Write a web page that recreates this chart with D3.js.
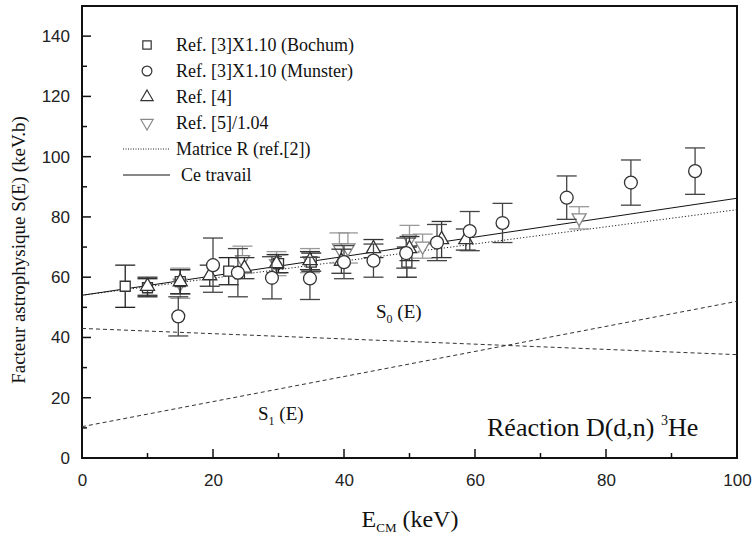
<!DOCTYPE html>
<html lang="fr">
<head>
<meta charset="UTF-8">
<title>Facteur astrophysique D(d,n)3He</title>
<script src="https://d3js.org/d3.v7.min.js"></script>
<style>
  body { margin: 0; background: #fff; }
  svg { display: block; }
  .serif { font-family: "Liberation Serif", "DejaVu Serif", serif; fill: #111; }
  .tick text { font-family: "Liberation Sans", Arial, sans-serif; font-size: 17px; fill: #222; }
</style>
</head>
<body>
<script>
// --- data ---
const bochumE   = [6.6, 10, 15, 22.4, 30, 35, 49.6];
const bochumS   = [57, 56.5, 58.5, 62, 64.5, 65, 65];
const bochumErr = [7, 3, 4, 4.5, 3, 3, 5];

const munsterE   = [14.7, 20, 23.8, 29, 34.8, 40, 44.5, 49.5, 54.2, 59.2, 64.2, 74, 83.8, 93.6];
const munsterS   = [47, 64, 61.5, 59.8, 59.6, 65, 65.5, 68, 71.5, 75.3, 78, 86.4, 91.4, 95.2];
const munsterErr = [6.5, 9, 8, 7, 7, 5.5, 5.5, 5, 6, 6.5, 6.5, 7.2, 7.5, 7.7];

const ref4E   = [10, 15, 19.5, 24.8, 29.7, 34.8, 39.6, 44.5, 50, 54.9, 58.6];
const ref4S   = [57, 58.5, 60.5, 63, 64.5, 65.5, 65.3, 69.5, 69.5, 72.5, 72.5];
const ref4Err = [3, 4, 3.5, 3.5, 3, 3, 4, 3, 4, 6, 3.5];

const ref5E   = [15, 24.5, 29.7, 34.8, 39.3, 40.6, 50, 52, 75.9];
const ref5S   = [58, 65.8, 64.5, 65.5, 69.7, 69.7, 72.7, 70.3, 79.7];
const ref5Err = [5, 4.5, 4, 4, 5, 5, 4.5, 4, 3.7];

const lineE      = [0, 100];
const ceTravail  = [54, 86.2];
const matriceR   = [54, 82.4];
const s0Line     = [43, 34.3];
const s1Line     = [10.4, 52];

const xTicks = [0, 20, 40, 60, 80, 100];
const yTicks = [0, 20, 40, 60, 80, 100, 120, 140];

// --- layout ---
const W = 752, H = 535;
const margin = {top: 6, left: 82, right: 15, bottom: 77};

const svg = d3.select("body").append("svg").attr("width", W).attr("height", H);

const x = d3.scaleLinear().domain([0, 100]).range([margin.left, W - margin.right]);
const y = d3.scaleLinear().domain([0, 150]).range([H - margin.bottom, margin.top]);

// frame
svg.append("rect")
  .attr("x", x(0)).attr("y", y(150))
  .attr("width", x(100) - x(0)).attr("height", y(0) - y(150))
  .attr("fill", "none").attr("stroke", "#111").attr("stroke-width", 2);

// axes (ticks inside)
const xAxis = svg.append("g").attr("transform", `translate(0,${y(0)})`)
  .call(d3.axisBottom(x).tickValues(xTicks).tickSize(0).tickPadding(16));
xAxis.select(".domain").remove();
svg.append("g").selectAll("line").data(d3.range(10, 100, 10)).join("line")
  .attr("x1", d => x(d)).attr("x2", d => x(d))
  .attr("y1", y(0)).attr("y2", d => y(0) - (d % 20 === 0 ? 9 : 5))
  .attr("stroke", "#111").attr("stroke-width", 1.5);

const yAxis = svg.append("g").attr("transform", `translate(${x(0)},0)`)
  .call(d3.axisLeft(y).tickValues(yTicks).tickSize(0).tickPadding(12));
yAxis.select(".domain").remove();
svg.append("g").selectAll("line").data(d3.range(10, 150, 10)).join("line")
  .attr("x1", x(0)).attr("x2", d => x(0) + (d % 20 === 0 ? 9 : 5))
  .attr("y1", d => y(d)).attr("y2", d => y(d))
  .attr("stroke", "#111").attr("stroke-width", 1.5);

// curves
const line = d3.line().x(d => x(d[0])).y(d => y(d[1]));
const pairs = vals => lineE.map((e, i) => [e, vals[i]]);
const plot = svg.append("g");
plot.append("path").attr("d", line(pairs(s0Line)))
  .attr("fill", "none").attr("stroke", "#333").attr("stroke-width", 1).attr("stroke-dasharray", "4,3");
plot.append("path").attr("d", line(pairs(s1Line)))
  .attr("fill", "none").attr("stroke", "#333").attr("stroke-width", 1).attr("stroke-dasharray", "4,3");
plot.append("path").attr("d", line(pairs(matriceR)))
  .attr("fill", "none").attr("stroke", "#222").attr("stroke-width", 1).attr("stroke-dasharray", "1.2,2");
plot.append("path").attr("d", line(pairs(ceTravail)))
  .attr("fill", "none").attr("stroke", "#111").attr("stroke-width", 1);

// markers
const sym = {
  square: d3.symbol().type(d3.symbolSquare).size(100),
  circle: d3.symbol().type(d3.symbolCircle).size(130),
  up: d3.symbol().type(d3.symbolTriangle).size(85),
  down: d3.symbol().type(d3.symbolTriangle).size(85)
};

function series(E, S, Err, kind, color, barColor) {
  const g = plot.append("g");
  const pts = E.map((e, i) => ({e, s: S[i], err: Err[i]}));
  const bars = g.selectAll("g.bar").data(pts).join("g").attr("class", "bar")
    .attr("stroke", barColor).attr("stroke-width", 1.3);
  bars.append("line").attr("x1", d => x(d.e)).attr("x2", d => x(d.e))
    .attr("y1", d => y(d.s - d.err)).attr("y2", d => y(d.s + d.err));
  [-1, 1].forEach(sg => {
    bars.append("line").attr("x1", d => x(d.e) - 10).attr("x2", d => x(d.e) + 10)
      .attr("y1", d => y(d.s + sg * d.err)).attr("y2", d => y(d.s + sg * d.err));
  });
  g.selectAll("path").data(pts).join("path")
    .attr("d", sym[kind])
    .attr("transform", d => `translate(${x(d.e)},${y(d.s)})` + (kind === "down" ? " rotate(180)" : ""))
    .attr("fill", "white").attr("stroke", color).attr("stroke-width", 1.3);
}

series(ref5E, ref5S, ref5Err, "down", "#888", "#999");
series(bochumE, bochumS, bochumErr, "square", "#333", "#222");
series(ref4E, ref4S, ref4Err, "up", "#333", "#333");
series(munsterE, munsterS, munsterErr, "circle", "#333", "#444");

// legend
const legendItems = [
  {kind: "square", color: "#333", label: "Ref. [3]X1.10 (Bochum)"},
  {kind: "circle", color: "#333", label: "Ref. [3]X1.10 (Munster)"},
  {kind: "up", color: "#333", label: "Ref. [4]"},
  {kind: "down", color: "#888", label: "Ref. [5]/1.04"},
  {kind: "dotted", color: "#222", label: "Matrice R (ref.[2])"},
  {kind: "solid", color: "#111", label: "Ce travail"}
];
const legSym = {
  square: d3.symbol().type(d3.symbolSquare).size(70),
  circle: d3.symbol().type(d3.symbolCircle).size(75),
  up: d3.symbol().type(d3.symbolTriangle).size(65),
  down: d3.symbol().type(d3.symbolTriangle).size(65)
};
const leg = svg.append("g");
legendItems.forEach((it, i) => {
  const yy = 45 + i * 26;
  if (it.kind === "dotted" || it.kind === "solid") {
    leg.append("line").attr("x1", 123).attr("x2", 170).attr("y1", yy).attr("y2", yy)
      .attr("stroke", it.color).attr("stroke-width", 1)
      .attr("stroke-dasharray", it.kind === "dotted" ? "1,1.5" : null);
  } else {
    leg.append("path").attr("d", legSym[it.kind]())
      .attr("transform", `translate(147,${yy})` + (it.kind === "down" ? " rotate(180)" : ""))
      .attr("fill", "white").attr("stroke", it.color).attr("stroke-width", 1.2);
  }
  leg.append("text").attr("class", "serif")
    .attr("x", it.kind === "solid" ? 181 : 176).attr("y", yy + 6)
    .attr("font-size", 18).text(it.label);
});

// annotations
const s0 = svg.append("text").attr("class", "serif").attr("x", 376).attr("y", 318).attr("font-size", 19);
s0.append("tspan").text("S");
s0.append("tspan").attr("dy", 5).attr("font-size", 12).text("0");
s0.append("tspan").attr("dy", -5).text(" (E)");

const s1 = svg.append("text").attr("class", "serif").attr("x", 258).attr("y", 420).attr("font-size", 19);
s1.append("tspan").text("S");
s1.append("tspan").attr("dy", 5).attr("font-size", 12).text("1");
s1.append("tspan").attr("dy", -5).text(" (E)");

const rx = svg.append("text").attr("class", "serif").attr("x", 487).attr("y", 436).attr("font-size", 26);
rx.append("tspan").text("Réaction D(d,n) ");
rx.append("tspan").attr("dy", -11).attr("font-size", 14).text("3");
rx.append("tspan").attr("dy", 11).text("He");

// axis titles
const xt = svg.append("text").attr("class", "serif").attr("x", 410).attr("y", 527)
  .attr("text-anchor", "middle").attr("font-size", 24);
xt.append("tspan").text("E");
xt.append("tspan").attr("dy", 5).attr("font-size", 13).text("CM");
xt.append("tspan").attr("dy", -5).text(" (keV)");

svg.append("text").attr("class", "serif")
  .attr("transform", `translate(25,${(y(0) + y(150)) / 2 + 18}) rotate(-90)`)
  .attr("text-anchor", "middle").attr("font-size", 19)
  .text("Facteur astrophysique S(E) (keV.b)");
</script>
</body>
</html>
